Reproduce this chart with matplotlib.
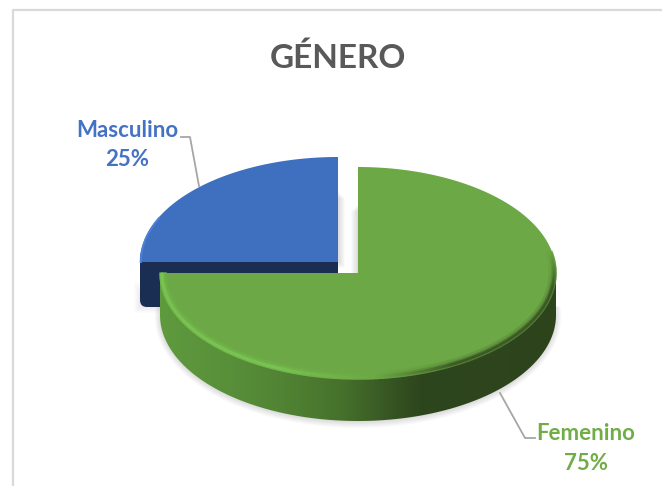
import numpy as np
import matplotlib
matplotlib.use("Agg")
import matplotlib.pyplot as plt
from matplotlib.colors import to_rgb, LinearSegmentedColormap
from matplotlib.patches import Polygon, Rectangle, FancyBboxPatch

# Data
categories = ["Masculino", "Femenino"]
shares = [25, 75]
title = "GÉNERO"

# Colours for the gradient on the green side, going left to right
SIDE_X = [160, 230, 290, 340, 375, 420, 556]
SIDE_COL = ["#5f9a3e", "#588f39", "#508133", "#46722c", "#3b5e26", "#2e461d", "#2d431c"]
BLUE, BLUE_DARK, BLUE_TEXT = "#3f6fbf", "#1a2d52", "#4472c4"
GREEN, GREEN_TEXT = "#6ca845", "#70ad47"
GREY = "#a6a6a6"

plt.rcParams["font.family"] = ["Lato", "DejaVu Sans"]


def mix(a, b, t):
    a, b = np.array(to_rgb(a)), np.array(to_rgb(b))
    return tuple(a + (b - a) * t)


def sector(cx, cy, rx, ry, t0, t1, n=200):
    t = np.radians(np.linspace(t0, t1, n))
    pts = np.column_stack([cx + rx * np.cos(t), cy + ry * np.sin(t)])
    return np.vstack([[cx, cy], pts])


fig = plt.figure(figsize=(6.62, 4.86), dpi=100)
ax = fig.add_axes([0, 0, 1, 1])
ax.axis("off")

# Frame of the chart, open at right and bottom of the screenshot
ax.plot([13, 13, 662], [486, 10.5, 10.5], color="#d9d9d9", lw=1.6, solid_capstyle="butt")

# Slices start at 12 o'clock and run clockwise (y axis is flipped)
fem_t0 = -90
fem_t1 = fem_t0 + 360 * shares[1] / sum(shares)
masc_t0, masc_t1 = fem_t1, fem_t1 + 360 * shares[0] / sum(shares)

bx, by, brx, bry, bdepth = 338, 262, 198, 105, 45
gx, gy, grx, gry, gdepth = 358, 273, 198, 106, 42

# soft shadows
for i in range(7):
    a = 0.018
    ax.add_patch(Polygon(sector(gx, gy + gdepth + 1, grx + i * 0.9, gry + i, -5, 185),
                         fc="black", ec="none", alpha=a, zorder=1))
    ax.add_patch(Rectangle((bx - brx - i, by + 20 + (6 - i) * 2), 30, bdepth - 20 - (6 - i) * 2 + i,
                           fc="black", ec="none", alpha=0.012, zorder=1))
    ax.add_patch(Rectangle((bx, 192 + i), 1 + i, by - 192, fc="black", ec="none", alpha=a, zorder=1))
    ax.add_patch(Rectangle((gx - 1 - i, 205 + i), 1 + i, gy - 205, fc="black", ec="none", alpha=a, zorder=1))

# Masculino: side then top
ax.add_patch(FancyBboxPatch((bx - brx, by - 12), brx, bdepth + 12, boxstyle="round,pad=0,rounding_size=7",
                            fc=BLUE_DARK, ec="none", zorder=2))
ax.add_patch(Polygon(sector(bx, by, brx, bry, masc_t0, masc_t1), fc=BLUE, ec="none", zorder=3))
t = np.radians(np.linspace(masc_t0, masc_t0 + 25, 30))
ax.plot(bx + (brx - 0.8) * np.cos(t), by + (bry - 0.8) * np.sin(t), color="#4a80d8", lw=1.5, zorder=4)

# Femenino: side is a gradient image clipped to the rim band
rim = np.radians(np.linspace(0, 180, 300))
top_x, top_y = gx + grx * np.cos(rim), gy + gry * np.sin(rim)
band = np.vstack([np.column_stack([top_x, top_y]), np.column_stack([top_x[::-1], top_y[::-1] + gdepth])])
band_patch = Polygon(band, fc="none", ec="none", transform=ax.transData)
ax.add_patch(band_patch)
cmap = LinearSegmentedColormap.from_list(
    "side", [((x - SIDE_X[0]) / (SIDE_X[-1] - SIDE_X[0]), c) for x, c in zip(SIDE_X, SIDE_COL)])
im = ax.imshow(np.linspace(0, 1, 400).reshape(1, -1), cmap=cmap, aspect="auto", zorder=5,
               extent=[SIDE_X[0], SIDE_X[-1], gy + gry + gdepth + 2, gy - 2])
im.set_clip_path(band_patch)
ax.set_xlim(0, 662)
ax.set_ylim(486, 0)

# Top face
ax.add_patch(Polygon(sector(gx, gy, grx, gry, fem_t0, fem_t1, 400), fc=GREEN, ec="none", zorder=6))

# Bevel round the front rim: light on the left, dark on the right
ts = np.linspace(-12, 180, 200)
for inset, w in [(0.4, 0.45), (1.8, 0.8), (3.2, 0.75), (4.6, 0.4), (6.0, 0.15)]:
    for t0, t1 in zip(ts[:-1], ts[1:]):
        mid = (t0 + t1) / 2
        dark = np.clip((85 - mid) / 25, 0, 1) * np.clip((mid + 12) / 20, 0, 1)
        light = np.clip((mid - 85) / 30, 0, 1)
        c = mix(GREEN, "#2d431c", dark * w)
        c = mix(c, "#7ccb55", light * w)
        r = np.radians([t0, t1 + 0.3])
        ax.plot(gx + (grx - inset) * np.cos(r), gy + (gry - inset) * np.sin(r),
                color=c, lw=1.6, solid_capstyle="butt", zorder=7)

# Leader lines
ax.plot([181, 190, 199], [137, 137, 186], color=GREY, lw=1.3, zorder=8)
ax.plot([500, 525, 535], [393, 438, 438], color=GREY, lw=1.3, zorder=8)

# Labels
ax.text(338, 68, title, ha="center", va="baseline", fontsize=24, fontweight="bold", color="#595959")
ax.text(127, 137, categories[0], ha="center", va="baseline", fontsize=16, fontweight="bold", color=BLUE_TEXT)
ax.text(127, 166, f"{shares[0]}%", ha="center", va="baseline", fontsize=16, fontweight="bold", color=BLUE_TEXT)
ax.text(586, 440, categories[1], ha="center", va="baseline", fontsize=16, fontweight="bold", color=GREEN_TEXT)
ax.text(586, 470, f"{shares[1]}%", ha="center", va="baseline", fontsize=16, fontweight="bold", color=GREEN_TEXT)

fig.savefig("out.png", dpi=100)
